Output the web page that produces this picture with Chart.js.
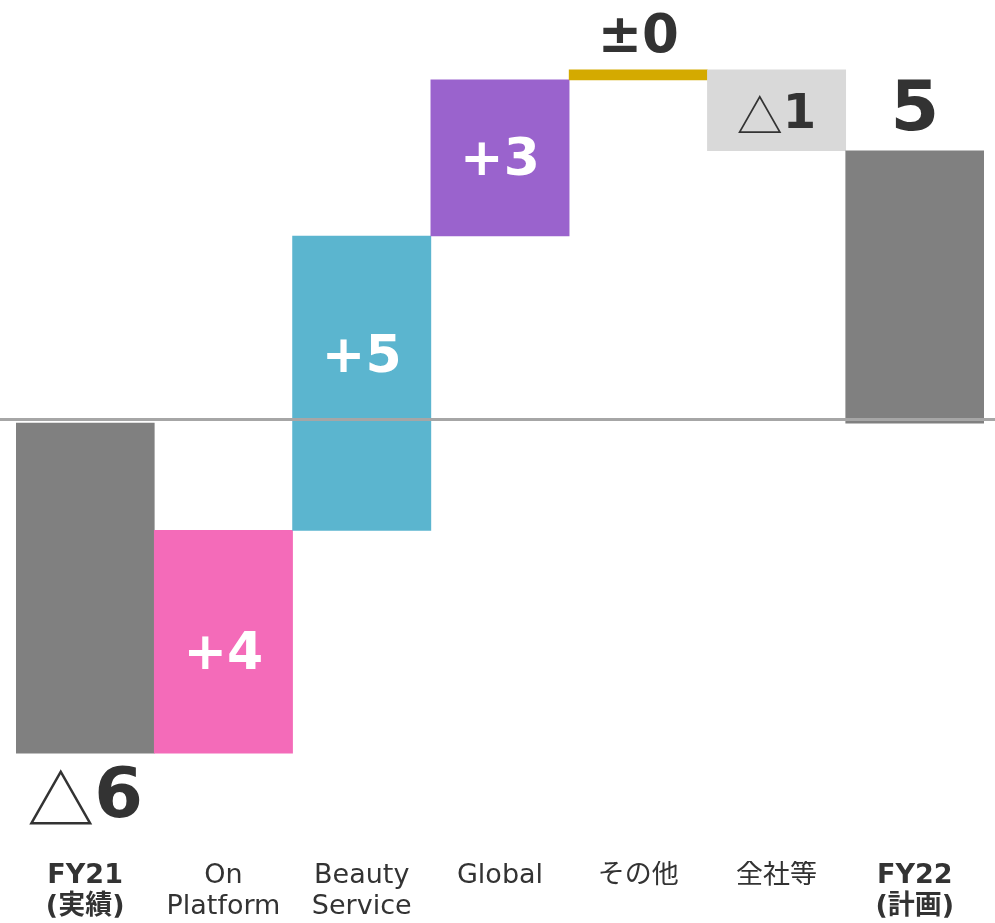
<!DOCTYPE html>
<html>
<head>
<meta charset="utf-8">
<script src="https://cdn.jsdelivr.net/npm/chart.js@4"></script>
<style>
  html, body { margin: 0; padding: 0; background: #fff; }
  #wrap { width: 995px; height: 923px; }
</style>
</head>
<body>
<div id="wrap"><canvas id="chart"></canvas></div>
<script>
// data
const categories = [["FY21", "(実績)"], ["On", "Platform"], ["Beauty", "Service"], "Global", "その他", "全社等", ["FY22", "(計画)"]];
const barLow  = [-6.0, -6.0, -1.95, 3.4, 6.24, 4.95, 0];
const barHigh = [0, -1.95, 3.4, 6.24, 6.42, 6.42, 4.95];
const barColors = ["#808080", "#F46BB9", "#5BB5CF", "#9A63CD", "#D4AA00", "#D9D9D9", "#808080"];
const valueMarks = ["△", "+", "+", "+", "±", "△", ""];
const valueNums  = ["6", "4", "5", "3", "0", "1", "5"];
const labelAt    = [-6.84, -4.23, 1.17, 4.75, 7.0, 5.59, 5.65];
const labelColors = ["#333", "#fff", "#fff", "#fff", "#333", "#333", "#333"];
const labelSizes  = [70, 52, 52, 52, 53, 48, 70];

const fontFam = '"DejaVu Sans", "Noto Sans CJK JP", sans-serif';
const triFam = '"Noto Sans CJK JP", sans-serif';

// zero line and value labels on top of the bars
const labelsPlugin = {
  id: "labels",
  afterDatasetsDraw(chart) {
    const ctx = chart.ctx;
    const x = chart.scales.x;
    const y = chart.scales.y;
    ctx.save();
    const zy = y.getPixelForValue(0) - 3.5;
    ctx.strokeStyle = "#A6A6A6";
    ctx.lineWidth = 3;
    ctx.beginPath();
    ctx.moveTo(0, zy);
    ctx.lineTo(chart.width, zy);
    ctx.stroke();

    ctx.textBaseline = "middle";
    ctx.textAlign = "left";
    for (let i = 0; i < categories.length; i++) {
      const size = labelSizes[i];
      const mark = valueMarks[i];
      const num = valueNums[i];
      const tri = mark === "△";
      const markFont = tri ? "normal " + Math.round(size * 0.95) + "px " + triFam : "bold " + size + "px " + fontFam;
      const numFont = "bold " + size + "px " + fontFam;
      ctx.font = markFont;
      const mw = ctx.measureText(mark).width;
      ctx.font = numFont;
      const nw = ctx.measureText(num).width;
      const cx = x.getPixelForValue(i);
      const cy = y.getPixelForValue(labelAt[i]);
      const left = cx - (mw + nw) / 2;
      ctx.fillStyle = labelColors[i];
      ctx.font = markFont;
      ctx.fillText(mark, left, cy);
      ctx.font = numFont;
      ctx.fillText(num, left + mw, cy);
    }
    ctx.restore();
  }
};

new Chart(document.getElementById("chart"), {
  type: "bar",
  data: {
    labels: categories,
    datasets: [{
      data: barLow.map((v, i) => [v, barHigh[i]]),
      backgroundColor: barColors,
      borderWidth: 0,
      barPercentage: 1,
      categoryPercentage: 1
    }]
  },
  options: {
    responsive: true,
    maintainAspectRatio: false,
    animation: false,
    layout: { padding: { left: 16, right: 11, top: 5, bottom: 0 } },
    plugins: {
      legend: { display: false },
      tooltip: { enabled: false }
    },
    scales: {
      x: {
        grid: { display: false, drawTicks: false },
        border: { display: false },
        ticks: {
          color: "#333",
          padding: 0,
          maxRotation: 0,
          autoSkip: false,
          font: (c) => ({
            family: fontFam,
            size: 27,
            lineHeight: 1.15,
            weight: (c.index === 0 || c.index === 6) ? "bold" : "normal"
          })
        }
      },
      y: {
        display: false,
        min: -7.96,
        max: 7.6
      }
    }
  },
  plugins: [labelsPlugin]
});
</script>
</body>
</html>
